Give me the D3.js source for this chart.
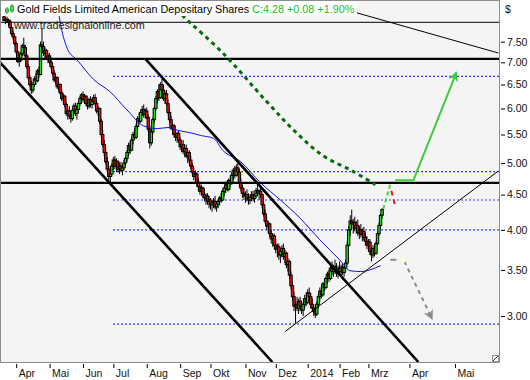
<!DOCTYPE html>
<html>
<head>
<meta charset="utf-8">
<title>Gold Fields Limited</title>
<script src="https://cdnjs.cloudflare.com/ajax/libs/d3/7.8.5/d3.min.js"></script>
<style>
  body { margin: 0; background: #fff; }
  text { font-family: "Liberation Sans", Arial, sans-serif; }
</style>
</head>
<body>
<div id="chart"></div>
<script>
// bar index 0 = first trading day of Apr 2013, future part counts calendar days
var firstBar = -8;
// daily candles [open, high, low, close]
var bars = [
  [8.15,8.22,8.02,8.05],[8.05,8.12,7.95,8.08],[8.08,8.15,7.98,8.00],[8.00,8.10,7.90,8.05],
  [8.02,8.08,7.82,7.86],[7.86,7.90,7.65,7.70],[7.70,7.78,7.55,7.62],[7.62,7.66,7.40,7.45],
  [7.45,7.50,7.20,7.25],[7.25,7.30,6.98,7.02],[7.02,7.10,6.90,7.05],[7.05,7.25,7.00,7.20],
  [7.20,7.45,7.15,7.40],[7.40,7.60,7.30,7.35],[7.35,7.42,7.10,7.15],[7.15,7.20,6.85,6.90],
  [6.90,6.95,6.60,6.65],[6.65,6.72,6.45,6.50],[6.50,6.58,6.30,6.38],[6.38,6.55,6.32,6.50],
  [6.50,6.68,6.45,6.62],[6.62,6.75,6.50,6.58],[6.58,6.85,6.55,6.80],[6.80,6.90,6.65,6.72],
  [6.72,7.50,6.70,7.42],[7.42,7.85,7.30,7.38],[7.38,7.50,7.15,7.22],[7.22,7.35,7.10,7.28],
  [7.28,7.32,7.05,7.10],[7.10,7.20,6.98,7.15],[7.15,7.22,6.95,7.00],[7.00,7.08,6.85,6.90],
  [6.90,6.98,6.70,6.75],[6.75,6.82,6.55,6.60],[6.60,6.70,6.50,6.65],[6.65,6.68,6.40,6.45],
  [6.45,6.55,6.35,6.50],[6.50,6.52,6.28,6.32],[6.32,6.40,6.15,6.20],[6.20,6.30,6.10,6.25],
  [6.25,6.28,6.02,6.08],[6.08,6.12,5.85,5.90],[5.90,6.00,5.78,5.95],[5.95,6.05,5.80,5.85],
  [5.85,5.92,5.72,5.80],[5.80,6.00,5.76,5.96],[5.96,6.10,5.88,6.05],[6.05,6.12,5.85,5.90],
  [5.90,6.02,5.78,5.98],[5.98,6.15,5.92,6.10],[6.10,6.25,6.05,6.20],[6.20,6.32,6.10,6.28],
  [6.28,6.35,6.12,6.18],[6.18,6.30,6.10,6.25],[6.25,6.28,6.05,6.10],[6.10,6.20,5.98,6.05],
  [6.05,6.22,6.00,6.18],[6.18,6.25,6.02,6.08],[6.08,6.20,6.00,6.15],[6.15,6.28,6.10,6.22],
  [6.22,6.30,6.05,6.10],[6.10,6.15,5.90,5.95],[5.95,6.05,5.85,6.00],[6.00,6.02,5.70,5.75],
  [5.75,5.80,5.45,5.50],[5.50,5.58,5.28,5.32],[5.32,5.40,5.12,5.18],[5.18,5.25,4.98,5.02],
  [5.02,5.10,4.85,4.90],[4.90,4.95,4.72,4.78],[4.78,4.85,4.68,4.82],[4.82,5.00,4.78,4.95],
  [4.95,5.10,4.88,5.05],[5.05,5.12,4.90,4.95],[4.95,5.08,4.85,5.02],[5.02,5.05,4.85,4.90],
  [4.90,5.00,4.82,4.95],[4.95,5.02,4.85,4.88],[4.88,4.98,4.80,4.92],[4.92,5.05,4.88,5.00],
  [5.00,5.10,4.95,5.08],[5.08,5.22,5.02,5.18],[5.18,5.35,5.12,5.30],[5.30,5.38,5.15,5.22],
  [5.22,5.45,5.20,5.40],[5.40,5.55,5.32,5.50],[5.50,5.62,5.40,5.45],[5.45,5.70,5.42,5.65],
  [5.65,5.85,5.60,5.80],[5.80,5.92,5.70,5.75],[5.75,5.98,5.72,5.92],[5.92,6.05,5.85,5.98],
  [5.98,6.08,5.82,5.88],[5.88,6.00,5.80,5.95],[5.95,6.02,5.78,5.82],[5.82,5.88,5.55,5.60],
  [5.60,5.68,5.25,5.35],[5.35,5.60,5.30,5.55],[5.55,5.82,5.50,5.78],[5.78,6.05,5.72,6.00],
  [6.00,6.25,5.95,6.20],[6.20,6.40,6.10,6.35],[6.35,6.50,6.15,6.22],[6.22,6.55,6.20,6.50],
  [6.50,6.62,6.30,6.38],[6.38,6.48,6.15,6.20],[6.20,6.35,6.10,6.30],[6.30,6.38,6.05,6.10],
  [6.10,6.18,5.88,5.92],[5.92,6.00,5.72,5.78],[5.78,5.85,5.58,5.62],[5.62,5.70,5.50,5.66],
  [5.66,5.70,5.45,5.50],[5.50,5.58,5.38,5.45],[5.45,5.55,5.35,5.52],[5.52,5.58,5.35,5.40],
  [5.40,5.45,5.22,5.28],[5.28,5.38,5.18,5.32],[5.32,5.40,5.15,5.20],[5.20,5.30,5.10,5.25],
  [5.25,5.32,5.08,5.12],[5.12,5.20,5.00,5.18],[5.18,5.22,4.98,5.05],[5.05,5.12,4.90,4.95],
  [4.95,5.00,4.80,4.85],[4.85,4.92,4.72,4.78],[4.78,4.88,4.68,4.82],[4.82,4.85,4.62,4.68],
  [4.68,4.75,4.55,4.62],[4.62,4.70,4.50,4.55],[4.55,4.65,4.48,4.60],[4.60,4.62,4.45,4.50],
  [4.50,4.58,4.40,4.45],[4.45,4.52,4.35,4.48],[4.48,4.52,4.35,4.40],[4.40,4.48,4.30,4.42],
  [4.42,4.45,4.28,4.35],[4.35,4.42,4.25,4.38],[4.38,4.45,4.30,4.40],[4.40,4.48,4.28,4.32],
  [4.32,4.40,4.25,4.36],[4.36,4.42,4.30,4.40],[4.40,4.48,4.34,4.45],[4.45,4.52,4.38,4.42],
  [4.42,4.58,4.40,4.55],[4.55,4.62,4.48,4.60],[4.60,4.70,4.52,4.65],[4.65,4.72,4.55,4.58],
  [4.58,4.75,4.55,4.72],[4.72,4.80,4.62,4.68],[4.68,4.85,4.65,4.80],[4.80,4.92,4.72,4.88],
  [4.88,4.95,4.75,4.80],[4.80,4.98,4.78,4.92],[4.92,5.05,4.80,4.85],[4.85,4.90,4.62,4.68],
  [4.68,4.75,4.55,4.60],[4.60,4.65,4.45,4.52],[4.52,4.60,4.42,4.48],[4.48,4.55,4.38,4.50],
  [4.50,4.58,4.40,4.45],[4.45,4.52,4.35,4.42],[4.42,4.50,4.36,4.46],[4.46,4.55,4.40,4.50],
  [4.50,4.56,4.40,4.44],[4.44,4.52,4.38,4.48],[4.48,4.60,4.45,4.56],[4.56,4.65,4.48,4.52],
  [4.52,4.58,4.42,4.55],[4.55,4.60,4.45,4.50],[4.50,4.52,4.30,4.35],[4.35,4.40,4.18,4.22],
  [4.22,4.28,4.08,4.12],[4.12,4.18,4.00,4.05],[4.05,4.12,3.95,4.08],[4.08,4.10,3.90,3.95],
  [3.95,4.00,3.82,3.88],[3.88,3.95,3.78,3.92],[3.92,3.95,3.75,3.80],[3.80,3.88,3.70,3.75],
  [3.75,3.82,3.65,3.78],[3.78,3.82,3.62,3.68],[3.68,3.75,3.58,3.72],[3.72,3.80,3.65,3.76],
  [3.76,3.82,3.62,3.66],[3.66,3.74,3.58,3.70],[3.70,3.72,3.52,3.56],[3.56,3.64,3.48,3.60],
  [3.60,3.62,3.40,3.44],[3.44,3.48,3.28,3.32],[3.32,3.36,3.15,3.20],[3.20,3.25,3.05,3.10],
  [3.10,3.15,2.93,3.12],[3.12,3.20,3.05,3.08],[3.08,3.18,3.02,3.15],[3.15,3.20,3.05,3.10],
  [3.10,3.16,3.02,3.06],[3.06,3.14,3.00,3.12],[3.12,3.22,3.08,3.18],[3.18,3.25,3.10,3.14],
  [3.14,3.28,3.12,3.24],[3.24,3.30,3.15,3.20],[3.20,3.24,3.08,3.12],[3.12,3.18,3.04,3.08],
  [3.08,3.12,3.00,3.05],[3.05,3.10,2.98,3.02],[3.02,3.15,3.00,3.12],[3.12,3.22,3.08,3.20],
  [3.20,3.30,3.15,3.26],[3.26,3.32,3.18,3.22],[3.22,3.36,3.20,3.34],[3.34,3.40,3.26,3.30],
  [3.30,3.42,3.28,3.40],[3.40,3.48,3.34,3.45],[3.45,3.50,3.36,3.40],[3.40,3.55,3.38,3.52],
  [3.52,3.60,3.44,3.48],[3.48,3.56,3.42,3.54],[3.54,3.62,3.46,3.50],[3.50,3.58,3.42,3.46],
  [3.46,3.55,3.40,3.52],[3.52,3.60,3.45,3.48],[3.48,3.56,3.42,3.53],[3.53,3.58,3.44,3.47],
  [3.47,3.55,3.42,3.52],[3.52,3.62,3.48,3.58],[3.58,3.85,3.56,3.80],[3.80,4.05,3.78,4.00],
  [4.00,4.20,3.92,4.12],[4.12,4.28,4.02,4.08],[4.08,4.15,3.95,4.10],[4.10,4.18,3.98,4.02],
  [4.02,4.12,3.95,4.06],[4.06,4.14,3.92,3.96],[3.96,4.05,3.88,4.00],[4.00,4.08,3.90,3.94],
  [3.94,4.02,3.85,3.98],[3.98,4.04,3.86,3.90],[3.90,3.96,3.80,3.85],[3.85,3.92,3.75,3.80],
  [3.80,3.88,3.72,3.84],[3.84,3.88,3.68,3.72],[3.72,3.78,3.60,3.68],[3.68,3.80,3.64,3.76],
  [3.76,3.82,3.66,3.70],[3.70,3.85,3.68,3.82],[3.82,3.98,3.80,3.95],[3.95,4.10,3.92,4.06],
  [4.06,4.22,4.02,4.20],[4.20,4.30,4.15,4.28]
];

// moving average [bar index, value]
var maPoints = [[27,8.5],[30,7.8],[34,7.3],[40,7.06],[51,6.61],[62,6.34],[73,5.97],[84,5.66],
  [93,5.61],[100,5.63],[106,5.58],[115,5.53],[122,5.48],[130,5.43],[136,5.22],[148,5.02],
  [161,4.68],[174,4.42],[187,4.16],[200,3.87],[213,3.62],[220,3.49],[227,3.48],[233,3.50],[240,3.55]];

var monthLabels = ["Apr","Mai","Jun","Jul","Aug","Sep","Okt","Nov","Dez","2014","Feb","Mrz","Apr","Mai"];
var monthIdx = [0,22,44,64,86,108,128,151,171,192,213,232,259,289];
var priceTicks = [3,3.5,4,4.5,5,5.5,6,6.5,7,7.5];

var thinLevels = [8.0];
var thickLevels = [7.08, 4.68];
var dottedLevels = [6.68, 4.86, 4.42, 4.00, 2.92];
var dottedFrom = 64;

// trend lines [[i1,p1],[i2,p2]]
var thickTrends = [
  [[-10.5,6.99],[168.7,2.573]],
  [[85.1,7.08],[264.9,2.573]]
];
var thinTrends = [
  [[177.3,2.85],[317.6,4.87]],
  [[196.9,8.59],[317.6,7.22]]
];
var greenCurve = [[109.4,8.2],[111.4,8.11],[136.4,7.21],[164.1,6.17],[183.9,5.55],
  [202.3,5.12],[221.4,4.87],[236.6,4.65]];
var greenArrow = [[249.7,4.72],[261.6,4.72],[290,6.77]];
var projUp = [[241.8,4.29],[246.4,4.66]];
var projDown = [[247.1,4.56],[249.3,4.36]];
var grayFlat = [[246.4,3.62],[250.4,3.62]];
var grayHandle = [255, 3.61];
var grayArrow = [[255.7,3.60],[274,2.97]];

var W = 530, H = 380;
var x = d3.scaleLinear().domain([-10, 318]).range([1, 499]);
var y = d3.scaleLog().domain([2.573, 8.59]).range([362, 1]);

var svg = d3.select("#chart").append("svg").attr("width", W).attr("height", H);
var defs = svg.append("defs");
defs.append("clipPath").attr("id", "clip")
  .append("rect").attr("x", 1).attr("y", 1).attr("width", 498).attr("height", 361);

function arrowMarker(id, color) {
  defs.append("marker").attr("id", id)
    .attr("viewBox", "0 0 10 10").attr("refX", 9).attr("refY", 5)
    .attr("markerWidth", 5).attr("markerHeight", 5).attr("orient", "auto")
    .append("path").attr("d", "M0,0 L10,5 L0,10 L3,5 Z").attr("fill", color);
}
arrowMarker("arrGreen", "#3ccc3c");
arrowMarker("arrGray", "#8a8a8a");

svg.append("rect").attr("x", 0.5).attr("y", 0.5).attr("width", 499).attr("height", 362)
  .attr("fill", "#f4f4f4").attr("stroke", "#8c8c8c");

var plot = svg.append("g").attr("clip-path", "url(#clip)");
var line = d3.line().x(function(d) { return x(d[0]); }).y(function(d) { return y(d[1]); });

// horizontal levels
plot.selectAll(".dot").data(dottedLevels).join("line")
  .attr("x1", x(dottedFrom)).attr("x2", 499)
  .attr("y1", function(d) { return y(d); }).attr("y2", function(d) { return y(d); })
  .attr("stroke", "#0000ee").attr("stroke-width", 1.2).attr("stroke-dasharray", "1.5,2.5");

// candles
var cw = 2.4;
var c = plot.append("g").selectAll("g").data(bars).join("g");
c.append("line")
  .attr("x1", function(d, k) { return x(firstBar + k); })
  .attr("x2", function(d, k) { return x(firstBar + k); })
  .attr("y1", function(d) { return y(d[1]); })
  .attr("y2", function(d) { return y(d[2]); })
  .attr("stroke", "#000").attr("stroke-width", 1);
c.append("rect")
  .attr("x", function(d, k) { return x(firstBar + k) - cw / 2; })
  .attr("width", cw)
  .attr("y", function(d) { return y(Math.max(d[0], d[3])); })
  .attr("height", function(d) { return Math.max(1, Math.abs(y(d[0]) - y(d[3]))); })
  .attr("fill", function(d) { return d[3] >= d[0] ? "#1ee01e" : "#ee1010"; })
  .attr("stroke", "#000").attr("stroke-width", 1);

// moving average
plot.append("path").datum(maPoints)
  .attr("d", line.curve(d3.curveMonotoneX))
  .attr("fill", "none").attr("stroke", "#1010ee").attr("stroke-width", 1);
line.curve(d3.curveLinear);

plot.selectAll(".thin").data(thinLevels).join("line")
  .attr("x1", 0).attr("x2", 499)
  .attr("y1", function(d) { return y(d); }).attr("y2", function(d) { return y(d); })
  .attr("stroke", "#000").attr("stroke-width", 1);
plot.selectAll(".thick").data(thickLevels).join("line")
  .attr("x1", 0).attr("x2", 499)
  .attr("y1", function(d) { return y(d); }).attr("y2", function(d) { return y(d); })
  .attr("stroke", "#000").attr("stroke-width", 2.4);

plot.selectAll(".tt").data(thickTrends).join("path")
  .attr("d", line).attr("fill", "none").attr("stroke", "#000").attr("stroke-width", 2.6);
plot.selectAll(".tn").data(thinTrends).join("path")
  .attr("d", line).attr("fill", "none").attr("stroke", "#000").attr("stroke-width", 1);

// dark green dotted curve
plot.append("path").datum(greenCurve)
  .attr("d", d3.line().x(function(d) { return x(d[0]); }).y(function(d) { return y(d[1]); }).curve(d3.curveCatmullRom))
  .attr("fill", "none").attr("stroke", "#0b690b").attr("stroke-width", 3)
  .attr("stroke-dasharray", "4,4");

// projections
plot.append("path").datum(greenArrow).attr("d", line)
  .attr("fill", "none").attr("stroke", "#3ccc3c").attr("stroke-width", 2)
  .attr("marker-end", "url(#arrGreen)");
plot.append("path").datum(projUp).attr("d", line)
  .attr("fill", "none").attr("stroke", "#4ad84a").attr("stroke-width", 2).attr("stroke-dasharray", "4,3");
plot.append("path").datum(projDown).attr("d", line)
  .attr("fill", "none").attr("stroke", "#ee1515").attr("stroke-width", 2).attr("stroke-dasharray", "5,4");
plot.append("path").datum(grayFlat).attr("d", line)
  .attr("fill", "none").attr("stroke", "#8a8a8a").attr("stroke-width", 2);
plot.append("path").datum(grayArrow).attr("d", line)
  .attr("fill", "none").attr("stroke", "#8a8a8a").attr("stroke-width", 2)
  .attr("stroke-dasharray", "4,4").attr("marker-end", "url(#arrGray)");
plot.append("rect").attr("x", x(grayHandle[0]) - 2).attr("y", y(grayHandle[1]) - 2)
  .attr("width", 4).attr("height", 4).attr("fill", "#ffffd0");

// title block
svg.append("rect").attr("x", 1).attr("y", 1).attr("width", 356).attr("height", 15).attr("fill", "#fff");
var icon = svg.append("g");
[[7, 7, 14], [12, 4, 13]].forEach(function(p) {
  icon.append("line").attr("x1", p[0]).attr("x2", p[0]).attr("y1", p[1]).attr("y2", p[2])
    .attr("stroke", "#1a9a1a");
  icon.append("rect").attr("x", p[0] - 1.5).attr("y", p[1] + 2).attr("width", 3).attr("height", p[2] - p[1] - 4)
    .attr("fill", "#4ee04e").attr("stroke", "#1a9a1a").attr("stroke-width", 0.8);
});
var title = svg.append("text").attr("x", 17).attr("y", 13).attr("font-size", 10.8).attr("fill", "#000");
title.append("tspan").text("Gold Fields Limited American Depositary Shares");
title.append("tspan").attr("dx", 3).attr("fill", "#22c022").text("C:4.28 +0.08 +1.90%");
svg.append("text").attr("x", 14).attr("y", 29).attr("font-size", 10.8).attr("fill", "#222")
  .text("www.tradesignalonline.com");

// axes
var yAxis = svg.append("g").attr("transform", "translate(501,0)")
  .call(d3.axisRight(y).tickValues(priceTicks).tickFormat(d3.format(".2f")).tickSize(4).tickPadding(2));
yAxis.select(".domain").remove();
yAxis.selectAll("text").attr("font-size", 10.5).attr("font-family", "Liberation Sans, Arial, sans-serif").attr("fill", "#111");
svg.append("text").attr("x", 505).attr("y", 13).attr("font-size", 10.5).attr("fill", "#111").text("$");

var xAxis = svg.append("g").attr("transform", "translate(0,364)")
  .call(d3.axisBottom(x).tickValues(monthIdx)
    .tickFormat(function(d, k) { return monthLabels[k]; }).tickSize(4));
xAxis.select(".domain").remove();
xAxis.selectAll("text").attr("text-anchor", "start").attr("x", 2).attr("y", 6)
  .attr("font-size", 10.5).attr("font-family", "Liberation Sans, Arial, sans-serif").attr("fill", "#111");

// resize grip
svg.append("rect").attr("x", 492.5).attr("y", 355.5).attr("width", 6).attr("height", 6)
  .attr("fill", "#fff").attr("stroke", "#999");
svg.append("line").attr("x1", 493).attr("y1", 361).attr("x2", 498).attr("y2", 356).attr("stroke", "#333");
</script>
</body>
</html>
